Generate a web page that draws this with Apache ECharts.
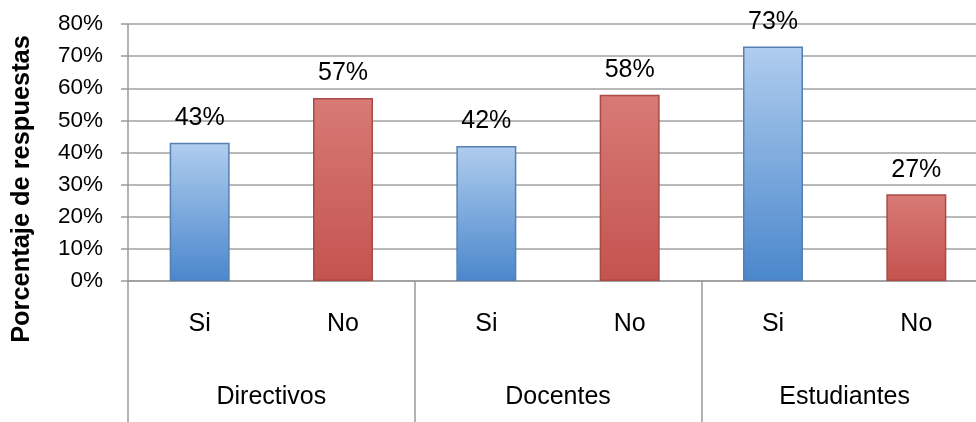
<!DOCTYPE html>
<html>
<head>
<meta charset="utf-8">
<script src="https://cdn.jsdelivr.net/npm/echarts@6/dist/echarts.min.js"></script>
<style>
  html, body { margin: 0; padding: 0; background: #fff; overflow: hidden; }
  /* the plot runs a bit past the right edge of the picture */
  #chart { width: 988px; height: 422px; }
</style>
</head>
<body>
<div id="chart"></div>
<script>
  // datos
  var answers = ['Si', 'No', 'Si', 'No', 'Si', 'No']
  var groups = ['Directivos', 'Docentes', 'Estudiantes']
  var values = [43, 57, 42, 58, 73, 27]

  var font = 'Liberation Sans, Arial, sans-serif'

  var blue = new echarts.graphic.LinearGradient(0, 0, 0, 1, [
    { offset: 0, color: '#b0cdee' },
    { offset: 1, color: '#4a87cc' }
  ])
  var red = new echarts.graphic.LinearGradient(0, 0, 0, 1, [
    { offset: 0, color: '#d87a76' },
    { offset: 1, color: '#c4534f' }
  ])

  var barData = values.map(function (v, i) {
    var si = answers[i] === 'Si'
    return {
      value: v,
      itemStyle: {
        color: si ? blue : red,
        borderColor: si ? '#5580b4' : '#a94a47',
        borderWidth: 1.5
      }
    }
  })

  var chart = echarts.init(document.getElementById('chart'))
  chart.setOption({
    animation: false,
    grid: { left: 128, right: 0, top: 24, bottom: 141 },
    // titulo del eje y, centrado sobre toda la altura como en el original
    graphic: [{
      type: 'text',
      x: 22,
      y: 189,
      rotation: Math.PI / 2,
      style: {
        text: 'Porcentaje de respuestas',
        fill: '#000',
        font: 'bold 25.4px ' + font,
        textAlign: 'center',
        textVerticalAlign: 'middle'
      }
    }],
    xAxis: [{
      type: 'category',
      data: answers,
      axisLine: { lineStyle: { color: '#9a9a9a', width: 1.5 } },
      axisTick: { show: false },
      axisLabel: { color: '#000', fontSize: 25, fontFamily: font, margin: 31, interval: 0 }
    }, {
      type: 'category',
      data: groups,
      position: 'bottom',
      axisLine: { show: false },
      axisTick: { show: true, length: 141, lineStyle: { color: '#9a9a9a', width: 1.5 } },
      axisLabel: { color: '#000', fontSize: 25, fontFamily: font, margin: 104 }
    }],
    yAxis: {
      type: 'value',
      min: 0,
      max: 80,
      interval: 10,
      axisLine: { show: true, lineStyle: { color: '#9a9a9a', width: 1.5 } },
      axisTick: { show: true, length: 7, lineStyle: { color: '#9a9a9a', width: 1.5 } },
      splitLine: { lineStyle: { color: '#a0a0a0', width: 1.5 } },
      axisLabel: { color: '#000', fontSize: 22.5, fontFamily: font, margin: 25, formatter: '{value}%' }
    },
    series: [{
      type: 'bar',
      xAxisIndex: 0,
      barWidth: 60,
      data: barData,
      label: {
        show: true,
        position: 'top',
        distance: 12,
        color: '#000',
        fontSize: 25,
        fontFamily: font,
        formatter: '{c}%'
      }
    }]
  })
</script>
</body>
</html>
